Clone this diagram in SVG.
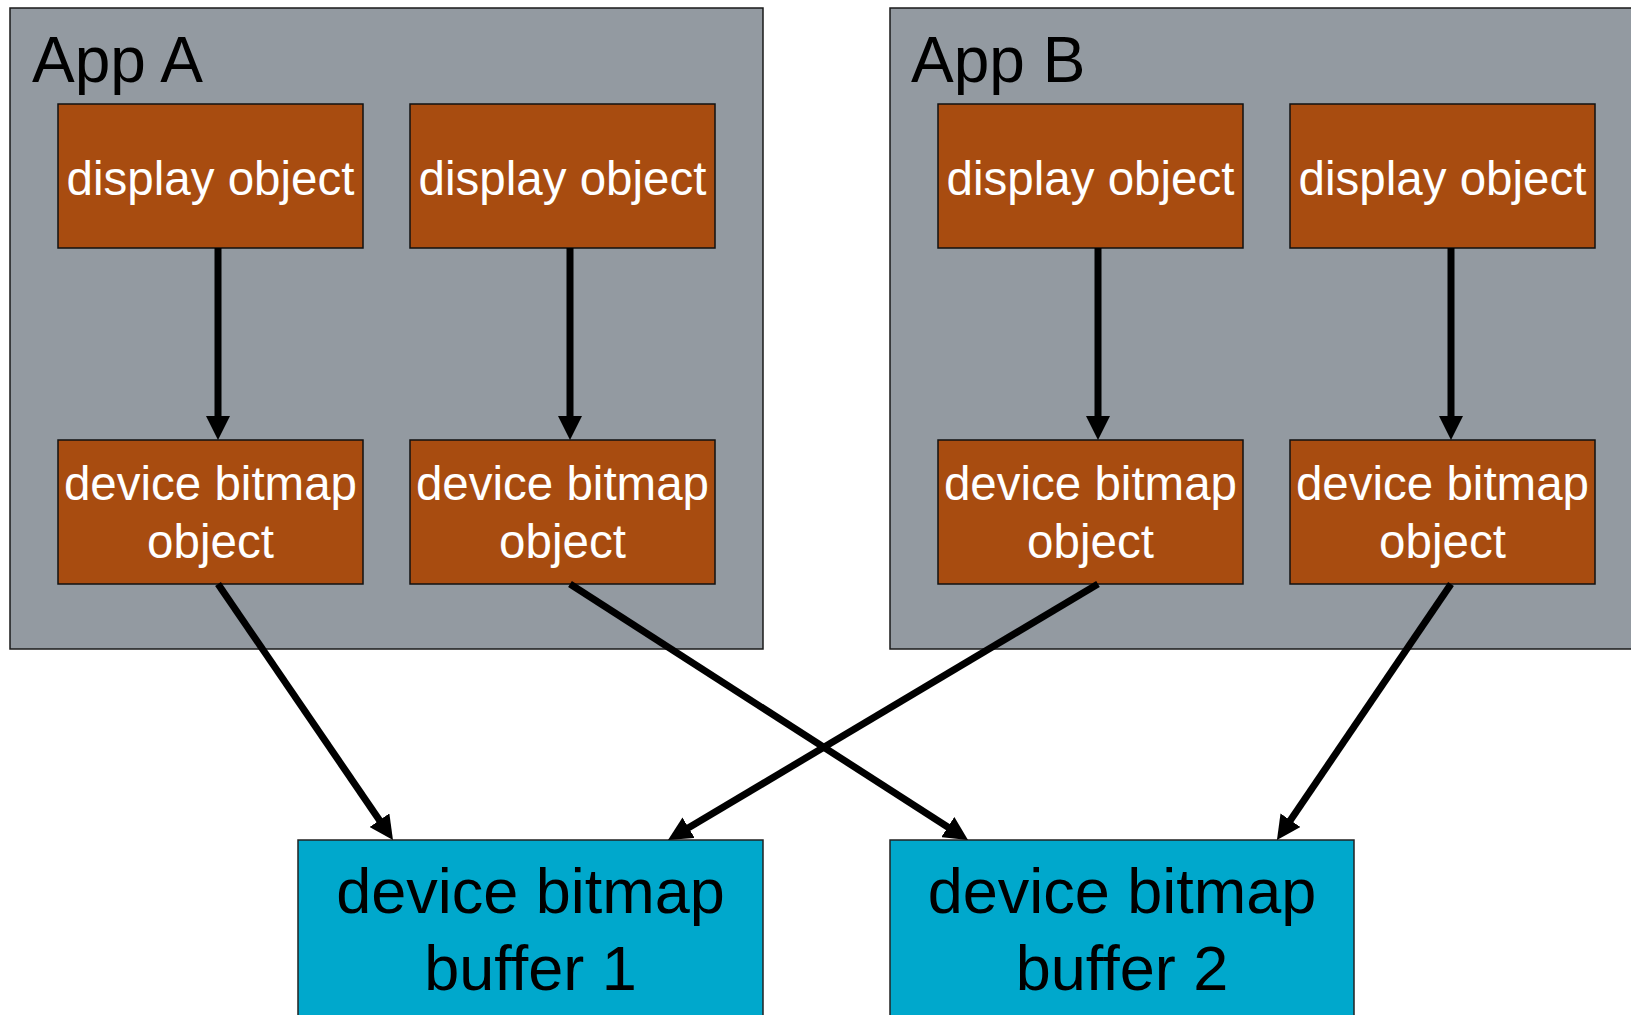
<svg xmlns="http://www.w3.org/2000/svg" width="1631" height="1015" viewBox="0 0 1631 1015">
<style>
.app{fill:#939aa1;stroke:#1a1a1a;stroke-width:1.5}
.obj{fill:#a84c10;stroke:#111;stroke-width:1.5}
.buf{fill:#00a8cc;stroke:#222;stroke-width:1.5}
.t{font-family:"Liberation Sans",Arial,sans-serif}
.ot{fill:#fff;font-size:47.5px;text-anchor:middle}
.bt{fill:#000;font-size:63px;text-anchor:middle}
.at{fill:#000;font-size:64px}
.c{stroke:#000;stroke-width:7;fill:none;marker-end:url(#ah)}
</style>
<defs>
<marker id="ah" viewBox="0 0 24 24" markerWidth="24" markerHeight="24" refX="4" refY="12" orient="auto" markerUnits="userSpaceOnUse">
<path d="M0,0 L24,12 L0,24 z" fill="#000"/>
</marker>
</defs>
<rect width="1631" height="1015" fill="#fff"/>
<g id="appA"><rect class="app" x="10" y="8" width="753" height="641"/><text class="t at" x="32" y="82">App A</text></g>
<g id="appB"><rect class="app" x="890" y="8" width="760" height="641"/><text class="t at" x="911" y="82">App B</text></g>
<g id="dispA1"><rect class="obj" x="58" y="104" width="305" height="144"/><text class="t ot" x="210.5" y="195">display object</text></g>
<g id="dispA2"><rect class="obj" x="410" y="104" width="305" height="144"/><text class="t ot" x="562.5" y="195">display object</text></g>
<g id="dispB1"><rect class="obj" x="938" y="104" width="305" height="144"/><text class="t ot" x="1090.5" y="195">display object</text></g>
<g id="dispB2"><rect class="obj" x="1290" y="104" width="305" height="144"/><text class="t ot" x="1442.5" y="195">display object</text></g>
<g id="devA1"><rect class="obj" x="58" y="440" width="305" height="144"/><text class="t ot" x="210.5" y="500">device bitmap</text><text class="t ot" x="210.5" y="558">object</text></g>
<g id="devA2"><rect class="obj" x="410" y="440" width="305" height="144"/><text class="t ot" x="562.5" y="500">device bitmap</text><text class="t ot" x="562.5" y="558">object</text></g>
<g id="devB1"><rect class="obj" x="938" y="440" width="305" height="144"/><text class="t ot" x="1090.5" y="500">device bitmap</text><text class="t ot" x="1090.5" y="558">object</text></g>
<g id="devB2"><rect class="obj" x="1290" y="440" width="305" height="144"/><text class="t ot" x="1442.5" y="500">device bitmap</text><text class="t ot" x="1442.5" y="558">object</text></g>
<g id="buf1"><rect class="buf" x="298" y="840" width="465" height="190"/><text class="t bt" x="530.5" y="913">device bitmap</text><text class="t bt" x="530.5" y="990">buffer 1</text></g>
<g id="buf2"><rect class="buf" x="890" y="840" width="464" height="190"/><text class="t bt" x="1122" y="913">device bitmap</text><text class="t bt" x="1122" y="990">buffer 2</text></g>
<g id="connectors">
<path class="c" d="M218,248 L218,420"/>
<path class="c" d="M570,248 L570,420"/>
<path class="c" d="M1098,248 L1098,420"/>
<path class="c" d="M1451,248 L1451,420"/>
<path class="c" d="M218,584 L381.7,823.5"/>
<path class="c" d="M570,584 L951.2,829.2"/>
<path class="c" d="M1098,584 L685.2,829.8"/>
<path class="c" d="M1451,584 L1288.2,823.5"/>
</g>
</svg>
